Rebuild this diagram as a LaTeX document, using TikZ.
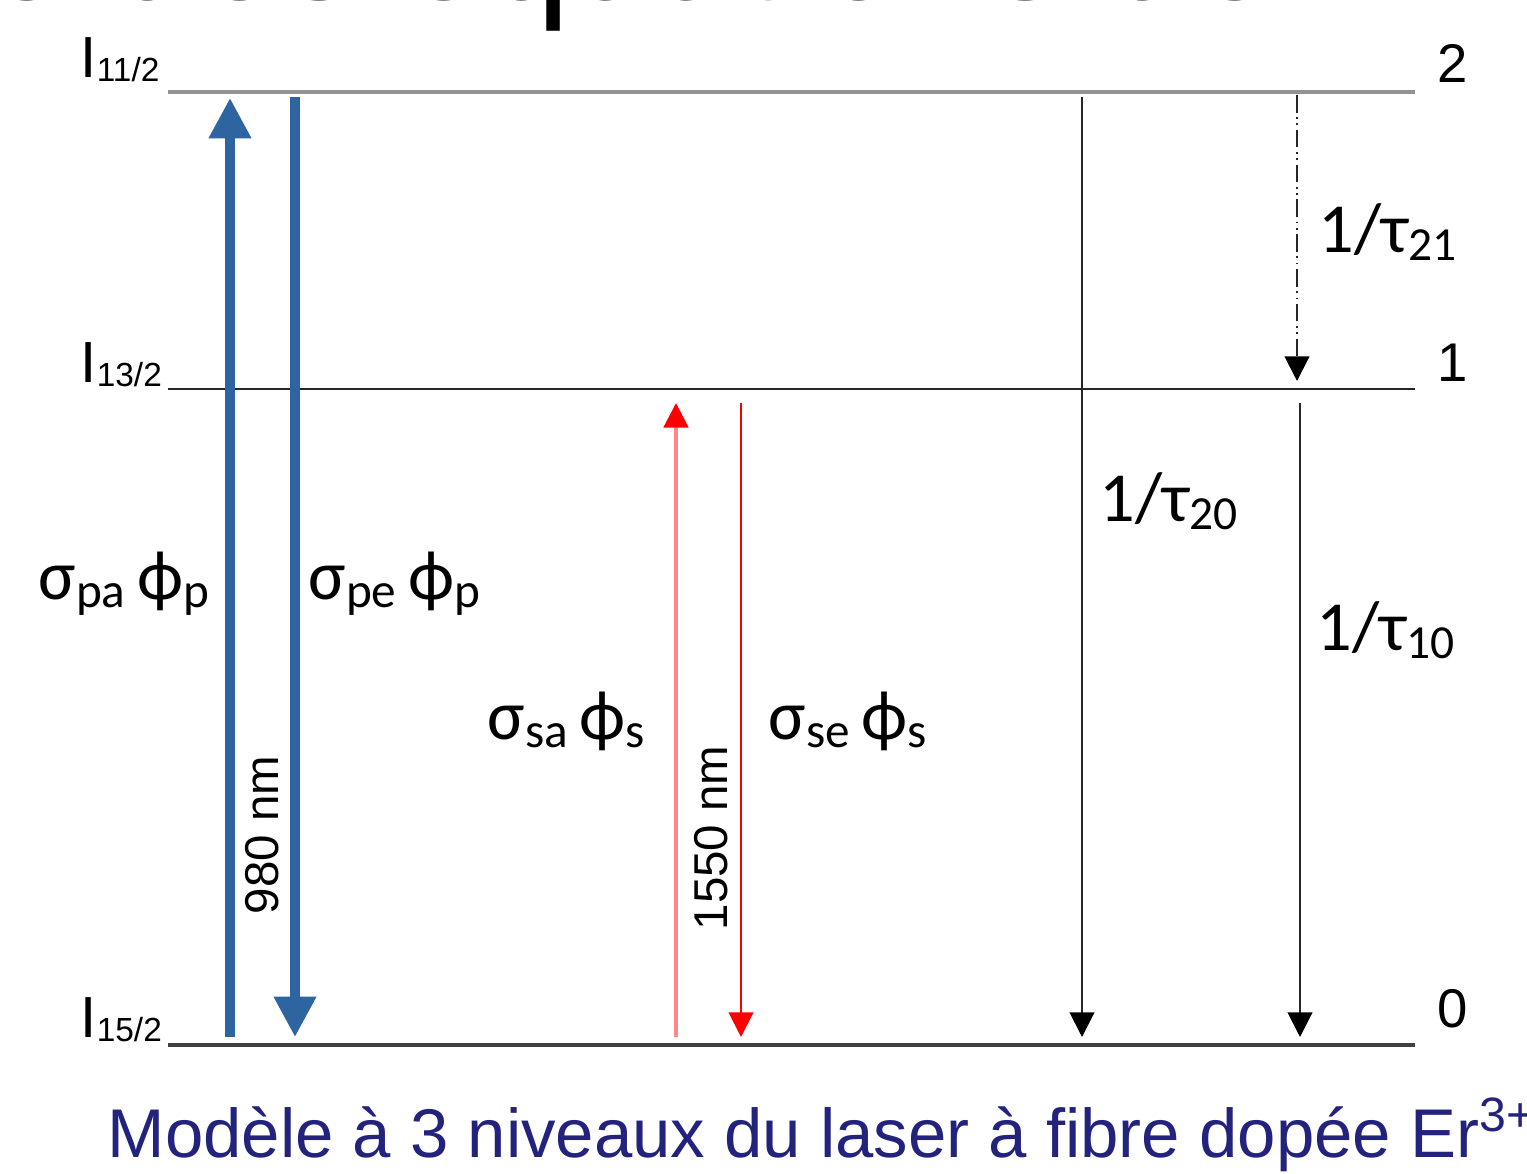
\documentclass[tikz,border=0pt]{standalone}
\usepackage{fontspec}
\setmainfont{Liberation Sans}
\newfontfamily\calfont{Carlito}
\usetikzlibrary{positioning, arrows.meta}
\definecolor{pumpblue}{RGB}{46,100,160}
\definecolor{capblue}{RGB}{35,35,125}
\definecolor{palered}{RGB}{255,135,135}
\newcommand{\lowtxt}[3]{\raisebox{-#1}{\fontsize{#2}{#2}\selectfont #3}}

\begin{document}
\begin{tikzpicture}[
  x=0.01cm, y=-0.01cm,
  every node/.style={inner sep=0pt},
  lvlgray/.style={draw=gray!85, line width=1pt},
  lvlblack/.style={draw=black!85, line width=0.6pt},
  pump/.style={draw=pumpblue, line width=2.6pt, -{Triangle[width=11.5pt, length=11.5pt]}},
  sigup/.style={draw=palered, line width=0.9pt, -{Triangle[width=7pt, length=7pt, color=red]}},
  sigdown/.style={draw=red, line width=0.6pt, -{Triangle[width=7pt, length=7pt]}},
  decay/.style={draw=black!85, line width=0.6pt, -{Triangle[width=7pt, length=7pt, color=black]}},
  decaydd/.style={decay, dash pattern=on 5pt off 1.3pt on 0.5pt off 1.3pt on 0.5pt off 1.3pt},
  lvlname/.style={anchor=base west, font=\fontsize{16.5pt}{16pt}\selectfont},
  lvlnum/.style={anchor=base west, font=\fontsize{15.5pt}{16pt}\selectfont},
  rate/.style={anchor=base west, font=\calfont\fontsize{20pt}{21pt}\selectfont},
  wavel/.style={rotate=90, font=\fontsize{13.5pt}{14pt}\selectfont}
]
  \useasboundingbox (0,0) rectangle (1527,1174);
  \clip (0,0) rectangle (1527,1174);

  \node[anchor=base west, font=\fontsize{43.5pt}{44pt}\selectfont] (title) at (-17,0) {e des équations de};

  \coordinate (l2w) at (168,92);   \coordinate (l2e) at (1415,92);
  \coordinate (l1w) at (168,389);  \coordinate (l1e) at (1415,389);
  \coordinate (l0w) at (168,1045); \coordinate (l0e) at (1415,1045);
  \draw[lvlgray]  (l2w) -- (l2e);
  \draw[lvlblack] (l1w) -- (l1e);
  \draw[lvlgray, draw=black!75]  (l0w) -- (l0e);

  \node[lvlname] (n2) at (80,78)   {I\lowtxt{1pt}{9.5pt}{11/2}};
  \node[lvlname] (n1) at (80,383)  {I\lowtxt{1pt}{9.5pt}{13/2}};
  \node[lvlname] (n0) at (80,1038) {I\lowtxt{1pt}{9.5pt}{15/2}};
  \node[lvlnum] (k2) at (1437,83)   {2};
  \node[lvlnum] (k1) at (1437,382)  {1};
  \node[lvlnum] (k0) at (1437,1028) {0};

  \coordinate (pa0) at (230,1037); \coordinate (pa2) at (230,98);
  \coordinate (pe2) at (295,97);   \coordinate (pe0) at (295,1037);
  \draw[pump] (pa0) -- (pa2);
  \draw[pump] (pe2) -- (pe0);
  \node[wavel] (w980) at (262,835) {980 nm};
  \node[rate] (spa) at (38,600)  {σ\lowtxt{2pt}{14pt}{pa}\,ϕ\lowtxt{2pt}{14pt}{p}};
  \node[rate] (spe) at (308,600) {σ\lowtxt{2pt}{14pt}{pe}\,ϕ\lowtxt{2pt}{14pt}{p}};

  \coordinate (sa0) at (676,1037); \coordinate (sa1) at (676,403);
  \coordinate (se1) at (741,403);  \coordinate (se0) at (741,1037);
  \draw[sigup] (sa0) -- (sa1);
  \draw[sigdown] (se1) -- (se0);
  \node[wavel] (w1550) at (711,838) {1550 nm};
  \node[rate] (ssa) at (487,740) {σ\lowtxt{2pt}{14pt}{sa}\,ϕ\lowtxt{2pt}{14pt}{s}};
  \node[rate] (sse) at (768,740) {σ\lowtxt{2pt}{14pt}{se}\,ϕ\lowtxt{2pt}{14pt}{s}};

  \coordinate (t20a) at (1082,97);  \coordinate (t20b) at (1082,1037);
  \coordinate (t21a) at (1297,95);  \coordinate (t21b) at (1297,381);
  \coordinate (t10a) at (1300,403); \coordinate (t10b) at (1300,1037);
  \draw[decay] (t20a) -- (t20b);
  \draw[decaydd] (t21a) -- (t21b);
  \draw[decay] (t10a) -- (t10b);
  \node[rate] (r20) at (1099,522) {1/τ\lowtxt{2pt}{13.5pt}{20}};
  \node[rate] (r21) at (1318,253) {1/τ\lowtxt{2pt}{13.5pt}{21}};
  \node[rate] (r10) at (1316,651) {1/τ\lowtxt{2pt}{13.5pt}{10}};

  \node[anchor=base west, text=capblue, font=\fontsize{19.6pt}{20pt}\selectfont] (cap) at (107,1158)
    {Modèle à 3 niveaux du laser à fibre dopée Er\textsuperscript{3+}};
\end{tikzpicture}
\end{document}
